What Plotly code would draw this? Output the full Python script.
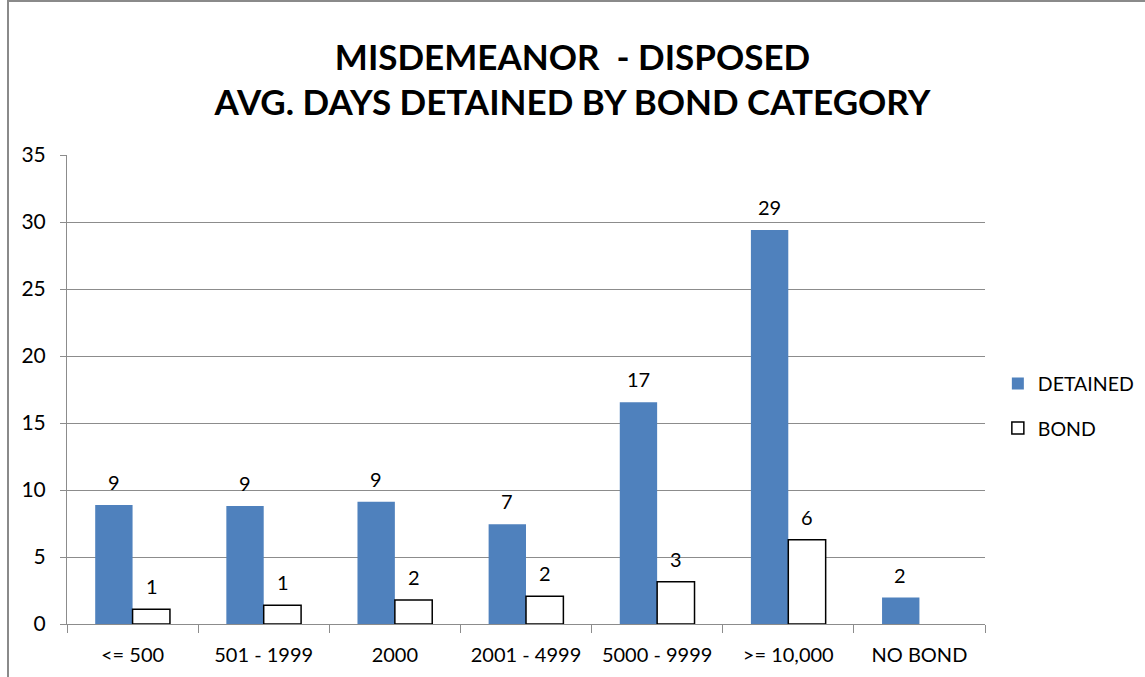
import plotly.graph_objects as go

categories = ["<= 500", "501 - 1999", "2000", "2001 - 4999", "5000 - 9999", ">= 10,000", "NO BOND"]
detained = [8.88, 8.8, 9.13, 7.44, 16.55, 29.4, 1.97]
bond = [1.1, 1.4, 1.79, 2.07, 3.16, 6.29, None]

FONT = "Lato"
BLUE = "#4F81BD"
GRID = "#8C8C8C"

fig = go.Figure()
fig.add_trace(go.Bar(
    x=categories, y=detained, name="DETAINED",
    marker=dict(color=BLUE, line=dict(width=0)),
    legendgroup="a",
))
fig.add_trace(go.Bar(
    x=categories, y=bond, name="BOND",
    marker=dict(color="white", line=dict(color="black", width=1.5)),
    legendgroup="b",
))

# value labels above each bar, rounded to whole days
# (category axis positions are given by index)
annotations = []
for series, shift in ((detained, -19), (bond, 19)):
    for i, v in enumerate(series):
        if v is None:
            continue
        annotations.append(dict(
            x=i, y=v, xref="x", yref="y", text=f"{v:.0f}",
            showarrow=False, xshift=shift, yshift=23,
            font=dict(family=FONT, size=20, color="black"),
        ))

fig.update_layout(
    width=1145, height=677,
    margin=dict(l=67, r=160, t=155, b=53, autoexpand=False),
    paper_bgcolor="white", plot_bgcolor="white",
    barmode="group", bargap=0.43, bargroupgap=0,
    title=dict(
        text="MISDEMEANOR  - DISPOSED<br>AVG. DAYS DETAINED BY BOND CATEGORY",
        x=0.5, xanchor="center", y=0.897, yanchor="middle",
        font=dict(family=FONT, size=35, color="black", weight="bold"),
    ),
    font=dict(family=FONT, size=19, color="black"),
    legend=dict(
        x=1.014, y=0.465, xanchor="left", yanchor="middle",
        font=dict(family=FONT, size=19.5, color="black"),
        tracegroupgap=16, traceorder="grouped",
        bgcolor="rgba(0,0,0,0)",
    ),
    annotations=annotations,
    shapes=[dict(
        type="rect", xref="paper", yref="paper",
        x0=(8 - 67) / 918, x1=(1160 - 67) / 918,
        y0=(624 - 690) / 469, y1=(624 - 1) / 469,
        line=dict(color="#8A8A8A", width=2), fillcolor="rgba(0,0,0,0)",
        layer="below",
    )],
)

fig.update_yaxes(
    range=[0, 35], dtick=5, tick0=0,
    showgrid=True, gridcolor=GRID, gridwidth=1,
    showline=True, linecolor=GRID, linewidth=1,
    ticks="outside", ticklen=6, tickcolor=GRID,
    ticklabelstandoff=10, zeroline=False,
    tickfont=dict(family=FONT, size=21, color="black"),
)
fig.update_xaxes(
    type="category", categoryorder="array", categoryarray=categories,
    range=[-0.5, len(categories) - 0.5],
    tickangle=0, automargin=False,
    showline=True, linecolor=GRID, linewidth=1,
    ticks="outside", ticklen=8, tickcolor=GRID, tickson="boundaries",
    ticklabelstandoff=13,
    tickfont=dict(family=FONT, size=20, color="black"),
)

fig.write_html("out.html")
